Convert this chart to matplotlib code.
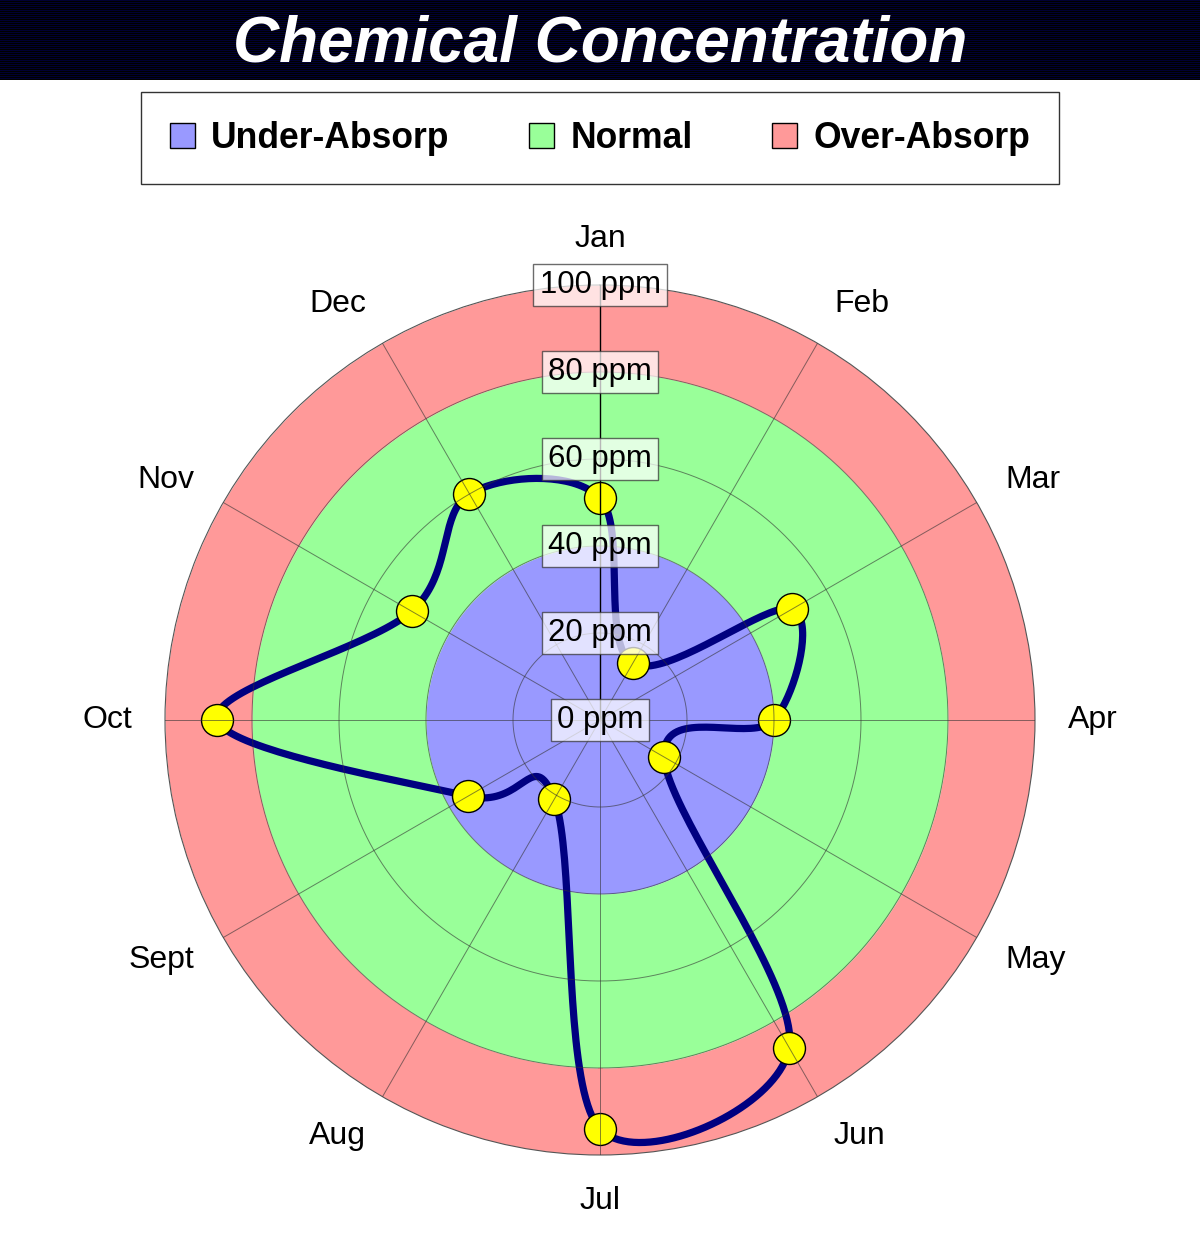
import numpy as np
import matplotlib
matplotlib.use("Agg")
import matplotlib.pyplot as plt
from matplotlib.patches import Patch

plt.rcParams['font.family'] = ['Liberation Sans', 'DejaVu Sans']

# data
meses = ['Jan', 'Feb', 'Mar', 'Apr', 'May', 'Jun', 'Jul', 'Aug', 'Sept', 'Oct', 'Nov', 'Dec']
ppm = [51, 15, 51, 40, 17, 87, 94, 21, 35, 88, 50, 60]
zone_names = ['Under-Absorp', 'Normal', 'Over-Absorp']
zone_limits = [0, 40, 80, 100]
zone_colors = ['#9999ff', '#99ff99', '#ff9999']
ring_ticks = [0, 20, 40, 60, 80, 100]

n = len(meses)
theta = np.arange(n) * 2 * np.pi / n
r = np.array(ppm, dtype=float)

# curba neteda (catmull-rom inchis) prin puncte
x = r * np.sin(theta)
y = r * np.cos(theta)
xs, ys = [], []
t = np.linspace(0, 1, 40, endpoint=False)
for i in range(n):
    p0 = np.array([x[i-1], y[i-1]])
    p1 = np.array([x[i], y[i]])
    p2 = np.array([x[(i+1) % n], y[(i+1) % n]])
    p3 = np.array([x[(i+2) % n], y[(i+2) % n]])
    for tt in t:
        pt = 0.5 * (2*p1 + (-p0 + p2)*tt + (2*p0 - 5*p1 + 4*p2 - p3)*tt**2
                    + (-p0 + 3*p1 - 3*p2 + p3)*tt**3)
        xs.append(pt[0]); ys.append(pt[1])
xs.append(xs[0]); ys.append(ys[0])
xs = np.array(xs); ys = np.array(ys)
th_c = np.unwrap(np.arctan2(xs, ys))
r_c = np.hypot(xs, ys)

fig = plt.figure(figsize=(12, 12.6), dpi=100)

# bara de titlu cu dungi
tax = fig.add_axes([0, 1 - 80/1260, 1, 80/1260])
stripes = np.zeros((80, 2, 3))
stripes[::2, :, 2] = 0.2
tax.imshow(stripes, aspect='auto', interpolation='nearest', extent=[0, 1, 0, 1])
tax.set_xlim(0, 1); tax.set_ylim(0, 1)
tax.axis('off')
tax.text(0.5, 0.44, 'Chemical Concentration', color='white', fontsize=46,
         fontweight='bold', fontstyle='italic', ha='center', va='center')

ax = fig.add_axes([0.1375, 105/1260, 0.725, 870/1260], projection='polar')
ax.set_theta_zero_location('N')
ax.set_theta_direction(-1)
ax.set_ylim(0, 100)
ax.set_xticks([]); ax.set_yticks([])
ax.grid(False)
ax.spines['polar'].set_color('#555555')
ax.spines['polar'].set_linewidth(0.8)

full = np.linspace(0, 2*np.pi, 400)
for k in range(3):
    ax.fill_between(full, zone_limits[k], zone_limits[k+1], color=zone_colors[k],
                    lw=0, zorder=1)

ax.plot(th_c, r_c, color='#000080', lw=5.2, zorder=3, solid_capstyle='round')
ax.plot(theta, r, 'o', ms=23, mfc='#ffff00', mec='black', mew=1, zorder=4)

# grila deasupra
for rr in ring_ticks[1:-1]:
    ax.plot(full, np.full_like(full, rr), color='#333333', lw=0.7, alpha=0.6, zorder=5)
for i, th in enumerate(theta):
    if i == 0:
        ax.plot([th, th], [0, 100], color='black', lw=1, zorder=5)
    else:
        ax.plot([th, th], [0, 100], color='#333333', lw=0.7, alpha=0.6, zorder=5)

for rr in ring_ticks:
    ax.text(0, rr, f'{rr} ppm', fontsize=22.4, ha='center', va='center', zorder=6,
            bbox=dict(boxstyle='square,pad=0.2', fc='white', alpha=0.72, ec='#333333', lw=1))

# etichete luni
for th, m in zip(theta, meses):
    s, c = np.sin(th), np.cos(th)
    if abs(s) < 0.01:
        ha = 'center'
    elif s > 0:
        ha = 'left'
    else:
        ha = 'right'
    lx, ly = 107.6 * s, 110.5 * c
    ax.text(np.arctan2(lx, ly), np.hypot(lx, ly), m, fontsize=23, ha=ha, va='center')

handles = [Patch(fc=c, ec='black', lw=1) for c in zone_colors]
leg = fig.legend(handles, zone_names, loc='center', bbox_to_anchor=(0.5, 1 - 138/1260),
                 ncol=3, prop={'weight': 'bold', 'size': 25.6},
                 frameon=True, fancybox=False, edgecolor='black',
                 handlelength=0.7, handleheight=0.7, handletextpad=0.45,
                 columnspacing=2.25, borderpad=0.8, borderaxespad=0)
leg.get_frame().set_linewidth(1)

fig.savefig('out.png', dpi=100, facecolor='white')
